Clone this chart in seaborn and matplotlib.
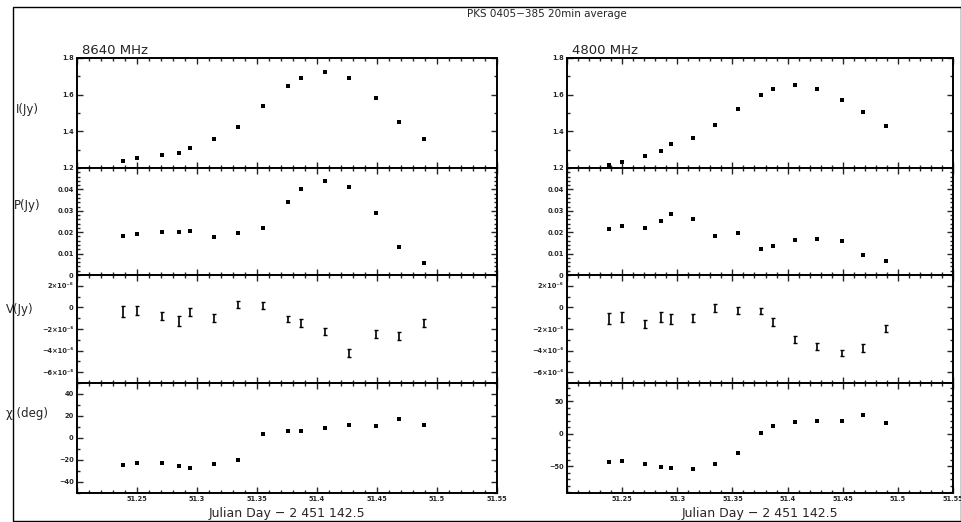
import numpy as np
import pandas as pd
import matplotlib
matplotlib.use("Agg")
import matplotlib.pyplot as plt
import seaborn as sns
from matplotlib.patches import Rectangle
from matplotlib.ticker import FixedLocator, FixedFormatter, MultipleLocator

# observation times (Julian Day - 2 451 142.5), same for both bands
times = [51.238, 51.250, 51.271, 51.285, 51.294, 51.314, 51.334, 51.355,
         51.376, 51.387, 51.407, 51.427, 51.449, 51.468, 51.489]

# 8640 MHz
i_8640 = [1.237, 1.255, 1.273, 1.283, 1.310, 1.356, 1.426, 1.539,
          1.646, 1.692, 1.725, 1.690, 1.582, 1.453, 1.356]
p_8640 = [0.0182, 0.0192, 0.0203, 0.0200, 0.0206, 0.0178, 0.0198, 0.0220,
          0.0342, 0.0402, 0.0437, 0.0409, 0.0289, 0.0132, 0.0058]
v_8640 = [-0.37, -0.31, -0.83, -1.29, -0.43, -1.02, 0.28, 0.15,
          -1.08, -1.45, -2.22, -4.22, -2.46, -2.68, -1.45]          # 1e-6 Jy
v_err_8640 = [0.52, 0.40, 0.37, 0.46, 0.37, 0.37, 0.34, 0.31,
              0.31, 0.37, 0.34, 0.37, 0.34, 0.37, 0.37]
chi_8640 = [-24.9, -22.8, -22.8, -25.8, -27.7, -23.4, -19.7, 3.7,
            6.2, 6.8, 9.5, 11.7, 10.8, 16.9, 12.0]

# 4800 MHz
i_4800 = [1.219, 1.232, 1.265, 1.293, 1.330, 1.366, 1.433, 1.521,
          1.599, 1.632, 1.653, 1.632, 1.573, 1.504, 1.431]
p_4800 = [0.0217, 0.0231, 0.0220, 0.0254, 0.0285, 0.0262, 0.0183, 0.0195,
          0.0122, 0.0135, 0.0165, 0.0166, 0.0160, 0.0095, 0.0066]
v_4800 = [-1.02, -0.92, -1.54, -0.89, -1.08, -1.02, -0.06, -0.31,
          -0.34, -1.38, -2.98, -3.60, -4.22, -3.75, -1.94]          # 1e-6 Jy
v_err_4800 = [0.52, 0.46, 0.37, 0.46, 0.43, 0.37, 0.34, 0.31,
              0.31, 0.37, 0.31, 0.34, 0.31, 0.34, 0.34]
chi_4800 = [-43.1, -42.1, -46.7, -51.3, -53.3, -53.8, -46.7, -30.3,
            1.0, 12.3, 17.9, 19.0, 19.0, 28.7, 16.9]

x_ticks = [51.2, 51.25, 51.3, 51.35, 51.4, 51.45, 51.5, 51.55]
x_labels = ["", "51.25", "51.3", "51.35", "51.4", "51.45", "51.5", "51.55"]
v_ticks = [-6e-6, -4e-6, -2e-6, 0, 2e-6]
v_labels = ["\u22126\u00d710\u207b\u2076", "\u22124\u00d710\u207b\u2076",
            "\u22122\u00d710\u207b\u2076", "0", "2\u00d710\u207b\u2076"]

sns.set_style("ticks")
plt.rcParams["font.family"] = ["DejaVu Sans"]

fig = plt.figure(figsize=(9.62, 5.22), dpi=100)

# row geometry in pixels from top (top, bottom)
rows = [(58, 168), (168, 275), (275, 383), (383, 493)]
cols = [(77, 497), (567, 953)]
H, W = 522.0, 962.0


def style_axis(ax, bottom):
    ax.set_xlim(51.2, 51.55)
    ax.xaxis.set_major_locator(FixedLocator(x_ticks))
    ax.xaxis.set_minor_locator(MultipleLocator(0.01))
    if bottom:
        ax.xaxis.set_major_formatter(FixedFormatter(x_labels))
    else:
        ax.set_xticklabels([])
    ax.tick_params(which="both", direction="in", top=True, right=True,
                   width=1.0, labelsize=4.8, pad=2.5)
    ax.tick_params(which="major", length=4.5)
    ax.tick_params(which="minor", length=2.5)
    for lab in ax.get_xticklabels() + ax.get_yticklabels():
        lab.set_fontweight("bold")
    for s in ax.spines.values():
        s.set_linewidth(1.4)
        s.set_color("black")
    ax.set_xlabel("")
    ax.set_ylabel("")


bands = [
    dict(i=i_8640, p=p_8640, v=v_8640, ve=v_err_8640, chi=chi_8640,
         chi_lim=(-50, 50), chi_major=[-40, -20, 0, 20, 40], chi_minor=10,
         name="8640 MHz"),
    dict(i=i_4800, p=p_4800, v=v_4800, ve=v_err_4800, chi=chi_4800,
         chi_lim=(-91, 78), chi_major=[-50, 0, 50], chi_minor=10,
         name="4800 MHz"),
]

for c, (band, (x0, x1)) in enumerate(zip(bands, cols)):
    axes = []
    for (y0, y1) in rows:
        ax = fig.add_axes([x0 / W, 1 - y1 / H, (x1 - x0) / W, (y1 - y0) / H])
        axes.append(ax)
    ax_i, ax_p, ax_v, ax_c = axes

    df = pd.DataFrame({"t": times, "I": band["i"], "P": band["p"],
                       "V": np.array(band["v"]) * 1e-6,
                       "Verr": np.array(band["ve"]) * 1e-6,
                       "chi": band["chi"]})

    # I
    sns.scatterplot(data=df, x="t", y="I", ax=ax_i, marker="s", s=5,
                    color="black", linewidth=0)
    ax_i.set_ylim(1.2, 1.8)
    ax_i.yaxis.set_major_locator(FixedLocator([1.2, 1.4, 1.6, 1.8]))
    ax_i.yaxis.set_major_formatter(FixedFormatter(["1.2", "1.4", "1.6", "1.8"]))
    ax_i.yaxis.set_minor_locator(MultipleLocator(0.1))

    # P
    sns.scatterplot(data=df, x="t", y="P", ax=ax_p, marker="s", s=7,
                    color="black", linewidth=0)
    ax_p.set_ylim(0, 0.05)
    ax_p.yaxis.set_major_locator(FixedLocator([0, 0.01, 0.02, 0.03, 0.04]))
    ax_p.yaxis.set_major_formatter(
        FixedFormatter(["0", "0.01", "0.02", "0.03", "0.04"]))
    ax_p.yaxis.set_minor_locator(MultipleLocator(0.002))

    # V with error bars
    ax_v.errorbar(df["t"], df["V"], yerr=df["Verr"], fmt="none",
                  ecolor="black", elinewidth=1.2, capsize=1.6, capthick=1.0)
    ax_v.set_ylim(-7e-6, 3e-6)
    ax_v.yaxis.set_major_locator(FixedLocator(v_ticks))
    ax_v.yaxis.set_major_formatter(FixedFormatter(v_labels))
    ax_v.yaxis.set_minor_locator(MultipleLocator(1e-6))

    # chi
    sns.scatterplot(data=df, x="t", y="chi", ax=ax_c, marker="s", s=5,
                    color="black", linewidth=0)
    ax_c.set_ylim(*band["chi_lim"])
    ax_c.yaxis.set_major_locator(FixedLocator(band["chi_major"]))
    ax_c.yaxis.set_major_formatter(
        FixedFormatter([str(v).replace("-", "\u2212") for v in band["chi_major"]]))
    ax_c.yaxis.set_minor_locator(MultipleLocator(band["chi_minor"]))

    for k, ax in enumerate(axes):
        style_axis(ax, bottom=(k == 3))

    fig.text((x0 + 5) / W, 1 - 50 / H, band["name"], fontsize=9.5,
             ha="left", va="center")
    fig.text((x0 + x1) / 2 / W, 1 - 514 / H, "Julian Day \u2212 2 451 142.5",
             fontsize=9, ha="center", va="center")

# y labels on the left column only
fig.text(27 / W, 1 - 110 / H, "I(Jy)", fontsize=8.5, ha="center", va="center")
fig.text(27 / W, 1 - 205 / H, "P(Jy)", fontsize=8.5, ha="center", va="center")
fig.text(20 / W, 1 - 309 / H, "V(Jy)", fontsize=8.5, ha="center", va="center")
fig.text(27 / W, 1 - 414 / H, "\u03c7 (deg)", fontsize=8.5, ha="center", va="center")

fig.text(467 / W, 1 - 14 / H, "PKS 0405\u2212385 20min average", fontsize=7.5,
         ha="left", va="center")

# outer frame
fig.patches.append(Rectangle((13 / W, 1 - 521 / H), (961 - 13) / W, (521 - 7) / H,
                             transform=fig.transFigure, fill=False,
                             edgecolor="black", linewidth=1.0))

fig.savefig("out.png", dpi=100)
